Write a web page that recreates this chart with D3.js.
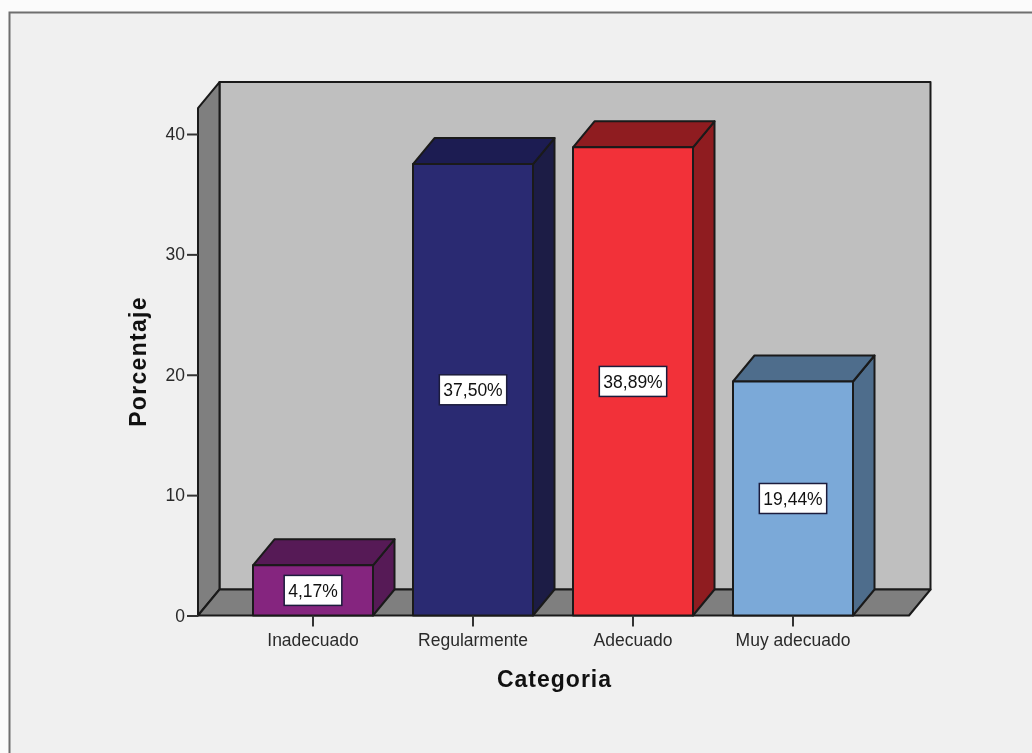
<!DOCTYPE html>
<html>
<head>
<meta charset="utf-8">
<script src="https://cdn.jsdelivr.net/npm/d3@7"></script>
<style>
html,body{margin:0;padding:0;background:#fbfbfb;overflow:hidden}
svg{display:block;font-family:"Liberation Sans",Arial,sans-serif;filter:blur(.45px)}
</style>
</head>
<body>
<svg id="chart" width="1032" height="753"></svg>
<script>
const categories = ["Inadecuado", "Regularmente", "Adecuado", "Muy adecuado"];
const values = [4.17, 37.5, 38.89, 19.44];
const valueLabels = ["4,17%", "37,50%", "38,89%", "19,44%"];
const frontColors = ["#85257f", "#2a2a72", "#f23139", "#7ba9d8"];
const topColors = ["#561a56", "#1c1c52", "#8f1c20", "#4e6d8c"];
const sideColors = ["#561a56", "#1c1c45", "#8f1c20", "#4e6d8c"];
const yTicks = [0, 10, 20, 30, 40];

const svg = d3.select("#chart");
const ink = "#1a1a1a";

// Oblique offset of the 3D box, and the front plane of the plot
const depthX = 21.5, depthY = -26;
const plot = {left: 198, right: 909, bottom: 615.5};
const y = d3.scaleLinear().domain([0, 40]).range([plot.bottom, 134]);
const x = d3.scaleBand().domain(categories).range([233, 873]).paddingInner(0.25).paddingOuter(0.125);
const wallTop = y(42.15);

const poly = pts => d3.line()(pts) + "Z";

// Chart panel
svg.append("rect").attr("x", 9.5).attr("y", 12.5).attr("width", 1040).attr("height", 760)
  .attr("fill", "#f0f0f0").attr("stroke", "#6f6f6f").attr("stroke-width", 2);

// Back wall, left wall, floor
const box = svg.append("g").attr("stroke", ink).attr("stroke-width", 2).attr("stroke-linejoin", "round");
box.append("path").attr("fill", "#bfbfbf").attr("d", poly([
  [plot.left + depthX, wallTop + depthY], [plot.right + depthX, wallTop + depthY],
  [plot.right + depthX, plot.bottom + depthY], [plot.left + depthX, plot.bottom + depthY]]));
box.append("path").attr("fill", "#7f7f7f").attr("d", poly([
  [plot.left, wallTop], [plot.left + depthX, wallTop + depthY],
  [plot.left + depthX, plot.bottom + depthY], [plot.left, plot.bottom]]));
box.append("path").attr("fill", "#7f7f7f").attr("d", poly([
  [plot.left, plot.bottom], [plot.left + depthX, plot.bottom + depthY],
  [plot.right + depthX, plot.bottom + depthY], [plot.right, plot.bottom]]));

// Bars: front face, top face, right face
const bars = svg.append("g").selectAll("g").data(categories).join("g")
  .attr("stroke", ink).attr("stroke-width", 2).attr("stroke-linejoin", "round");
bars.append("path").attr("fill", (d, i) => sideColors[i]).attr("d", (d, i) => {
  const r = x(d) + x.bandwidth(), t = y(values[i]);
  return poly([[r, t], [r + depthX, t + depthY], [r + depthX, plot.bottom + depthY], [r, plot.bottom]]);
});
bars.append("path").attr("fill", (d, i) => topColors[i]).attr("d", (d, i) => {
  const l = x(d), r = l + x.bandwidth(), t = y(values[i]);
  return poly([[l, t], [l + depthX, t + depthY], [r + depthX, t + depthY], [r, t]]);
});
bars.append("rect").attr("fill", (d, i) => frontColors[i])
  .attr("x", d => x(d)).attr("width", x.bandwidth())
  .attr("y", (d, i) => y(values[i])).attr("height", (d, i) => plot.bottom - y(values[i]));

// Value boxes centred on each bar's front face
const labels = svg.append("g").selectAll("g").data(categories).join("g")
  .attr("transform", (d, i) => `translate(${x(d) + x.bandwidth() / 2},${(y(values[i]) + plot.bottom) / 2})`);
labels.append("text").attr("class", "v").attr("text-anchor", "middle").attr("dy", "0.36em")
  .attr("font-size", 17.5).attr("fill", "#111").text((d, i) => valueLabels[i]);
labels.insert("rect", "text").each(function() {
  const b = this.parentNode.querySelector("text").getBBox();
  d3.select(this).attr("x", b.x - 4).attr("width", b.width + 8).attr("y", -15).attr("height", 30)
    .attr("fill", "#fff").attr("stroke", "#1c1c3c").attr("stroke-width", 1.5);
});

// Axes
const yAxis = d3.axisLeft(y).tickValues(yTicks).tickSize(11).tickPadding(2);
const gy = svg.append("g").attr("transform", `translate(${plot.left},0)`).call(yAxis);
const xAxis = d3.axisBottom(x).tickSize(11).tickPadding(7);
const gx = svg.append("g").attr("transform", `translate(0,${plot.bottom})`).call(xAxis);
for (const g of [gx, gy]) {
  g.select(".domain").remove();
  g.selectAll(".tick line").attr("stroke", "#333").attr("stroke-width", 2);
  g.selectAll("text").attr("font-family", "Liberation Sans").attr("font-size", 17.5).attr("fill", "#2a2a2a");
}

// Axis titles
svg.append("text").attr("x", 554.5).attr("y", 687).attr("text-anchor", "middle").attr("letter-spacing", 1)
  .attr("font-size", 23).attr("font-weight", "bold").attr("fill", "#111").text("Categoria");
svg.append("text").attr("transform", "translate(146,361.5) rotate(-90)").attr("text-anchor", "middle").attr("letter-spacing", 1.3)
  .attr("font-size", 23).attr("font-weight", "bold").attr("fill", "#111").text("Porcentaje");
</script>
</body>
</html>
